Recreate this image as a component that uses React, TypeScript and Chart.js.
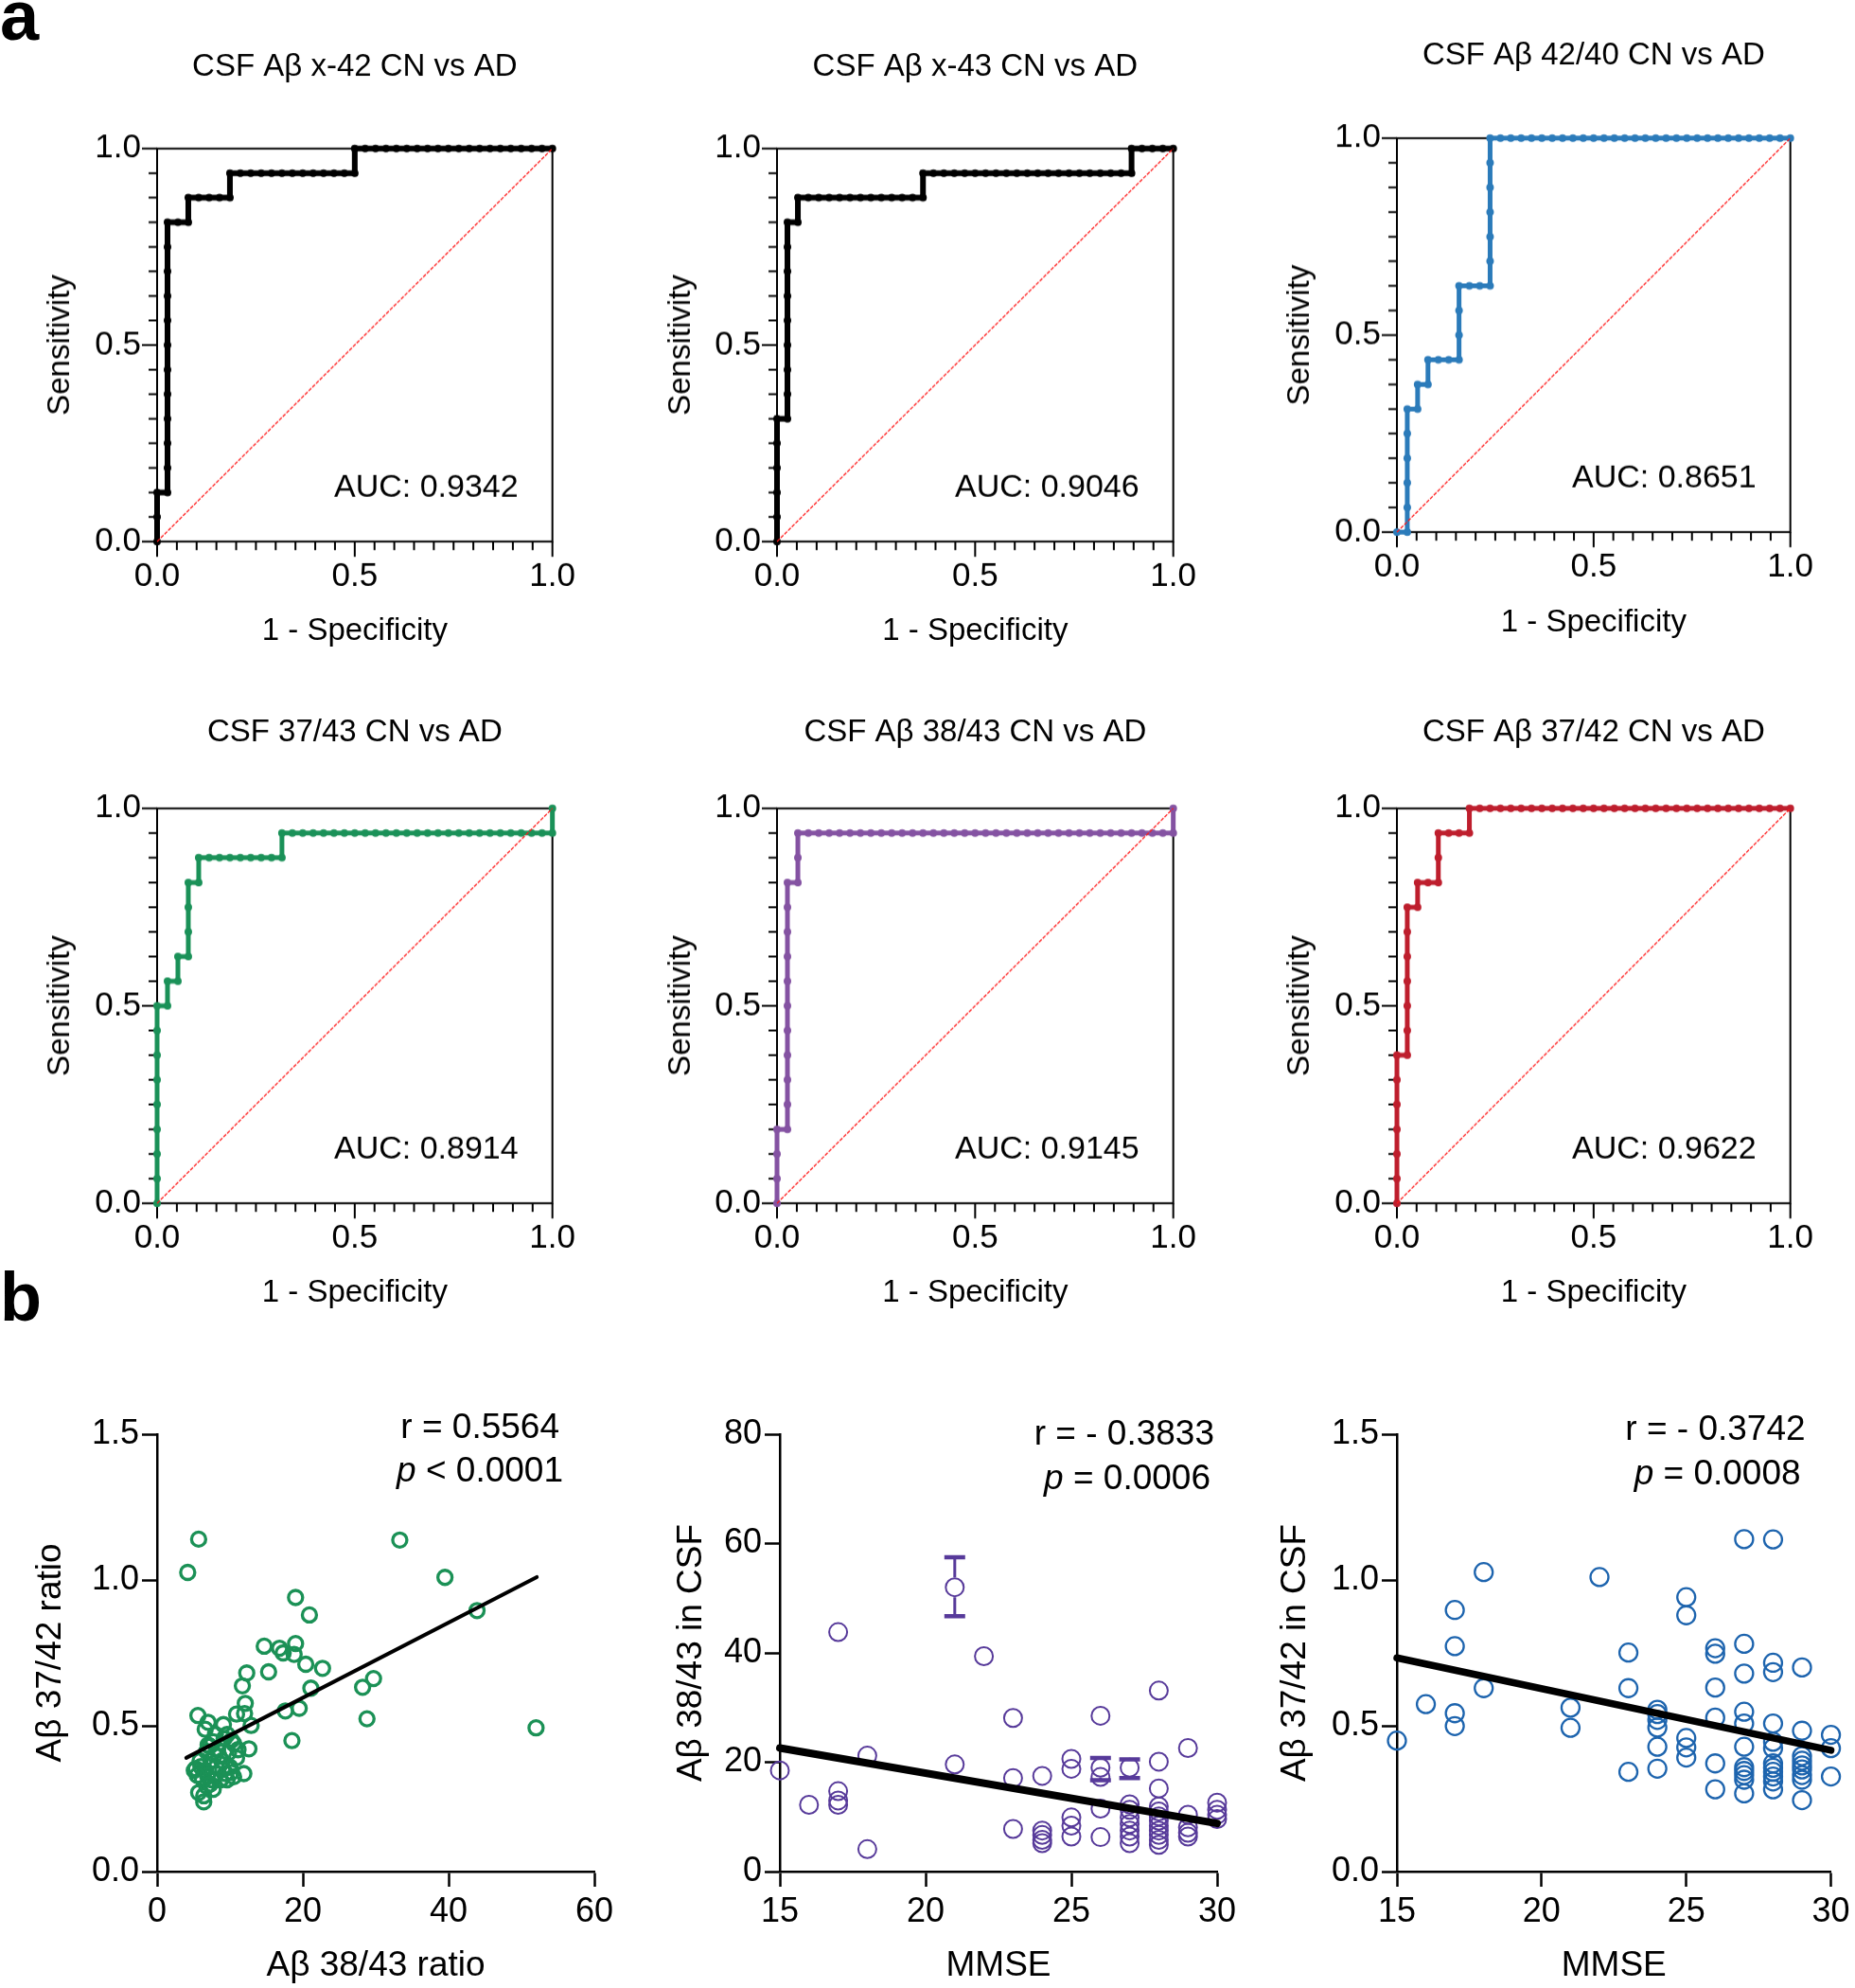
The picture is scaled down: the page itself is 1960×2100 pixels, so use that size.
import React, { useEffect, useRef } from "react";
import { Chart, registerables } from "chart.js";

Chart.register(...registerables);

const FONT = "'Liberation Sans', Arial, Helvetica, sans-serif";

// ---------------- (a) ROC curves ----------------
const N_CN = 38; // controls (1 - specificity denominator)
const N_AD = 16; // AD cases (sensitivity denominator)
// Corners of each ROC step path, as cumulative counts of false positives / true positives
const x42_FP = [0, 0, 1, 1, 3, 3, 7, 7, 19, 19, 38];
const x42_TP = [0, 2, 2, 13, 13, 14, 14, 15, 15, 16, 16];
const x43_FP = [0, 0, 1, 1, 2, 2, 14, 14, 34, 34, 38];
const x43_TP = [0, 5, 5, 13, 13, 14, 14, 15, 15, 16, 16];
const r4240_FP = [0, 1, 1, 2, 2, 3, 3, 6, 6, 9, 9, 38];
const r4240_TP = [0, 0, 5, 5, 6, 6, 7, 7, 10, 10, 16, 16];
const r3743_FP = [0, 0, 1, 1, 2, 2, 3, 3, 4, 4, 12, 12, 38, 38];
const r3743_TP = [0, 8, 8, 9, 9, 10, 10, 13, 13, 14, 14, 15, 15, 16];
const r3843_FP = [0, 0, 1, 1, 2, 2, 38, 38];
const r3843_TP = [0, 3, 3, 13, 13, 15, 15, 16];
const r3742_FP = [0, 0, 1, 1, 2, 2, 4, 4, 7, 7, 38];
const r3742_TP = [0, 6, 6, 12, 12, 13, 13, 15, 15, 16, 16];
const rocTitles = [
  "CSF Aβ x-42 CN vs AD",
  "CSF Aβ x-43 CN vs AD",
  "CSF Aβ 42/40 CN vs AD",
  "CSF 37/43 CN vs AD",
  "CSF Aβ 38/43 CN vs AD",
  "CSF Aβ 37/42 CN vs AD",
];
const aucLabels = ["AUC: 0.9342", "AUC: 0.9046", "AUC: 0.8651", "AUC: 0.8914", "AUC: 0.9145", "AUC: 0.9622"];
const rocTickLabels = [0, 0.5, 1.0];

// ---------------- (b) correlations ----------------
const ratio3843 = [
  5.7, 4.2, 33.3, 39.5, 43.9, 52.0, 19.0, 20.9, 14.7, 16.8, 17.3, 19.0, 18.8, 20.4, 22.7, 28.2, 29.7, 28.8,
  12.3, 15.3, 11.7, 12.1, 10.9, 12.0, 12.9, 17.6, 19.5, 21.1, 18.5, 5.6, 7.0, 6.6, 9.1, 12.6, 11.9,
  7.7, 9.2, 10.5, 6.8, 8.3, 9.8, 10.9, 5.9, 7.4, 8.9, 5.3, 6.6, 8.1, 9.4, 10.5, 6.2, 7.5, 8.7, 5.7, 7.7,
  6.4, 5.1, 7.0, 10.0, 8.5, 11.1, 9.6, 6.8, 8.1, 7.2, 8.0, 9.6, 10.2, 6.0, 7.9, 9.0, 10.2, 6.9, 5.5, 6.4, 7.3,
];
const ratio3742 = [
  1.14, 1.026, 1.137, 1.009, 0.895, 0.493, 0.94, 0.88, 0.773, 0.766, 0.75, 0.782, 0.745, 0.711, 0.697, 0.632, 0.662, 0.524,
  0.681, 0.685, 0.637, 0.577, 0.54, 0.542, 0.501, 0.551, 0.56, 0.629, 0.449, 0.535, 0.512, 0.488, 0.504, 0.421, 0.336,
  0.445, 0.456, 0.439, 0.412, 0.418, 0.407, 0.39, 0.38, 0.38, 0.38, 0.353, 0.347, 0.358, 0.336, 0.325, 0.32, 0.315, 0.315, 0.271, 0.282,
  0.239, 0.347, 0.434, 0.358, 0.396, 0.418, 0.315, 0.293, 0.336, 0.43, 0.47, 0.47, 0.45, 0.36, 0.4, 0.35, 0.34, 0.33, 0.33, 0.26, 0.3,
];
const fit7X = [4.0, 52.1];
const fit7Y = [0.39, 1.01];

const mmse8 = [
  15, 16, 17, 17, 17, 17, 18, 18, 21, 21, 22, 23, 23, 23, 24, 24, 24, 24, 24, 25, 25, 25, 25, 25,
  26, 26, 26, 26, 26, 27, 27, 27, 27, 27, 27, 27, 27, 28, 28, 28, 28, 28, 28, 28, 28, 28, 28, 28, 28,
  29, 29, 29, 29, 29, 30, 30, 30, 30,
];
const csf3843 = [
  18.5, 12.2, 43.8, 14.7, 13.0, 12.2, 21.2, 4.1, 52.0, 19.6, 39.4, 28.1, 17.1, 7.8, 17.5, 7.5, 6.7, 5.8, 5.2,
  20.6, 18.8, 9.9, 8.4, 6.4, 28.5, 19.0, 17.3, 11.5, 6.3, 19.0, 12.3, 11.3, 9.9, 8.7, 7.5, 6.4, 5.2,
  33.1, 20.1, 15.2, 11.9, 11.0, 10.1, 9.3, 8.4, 7.5, 6.7, 5.8, 4.9, 22.6, 10.4, 8.1, 7.1, 6.4, 12.6, 11.3, 10.4, 9.6,
];
const err8X = [21, 26, 27];
const err8Mean = [52.0, 19.0, 19.0];
const err8Low = [46.7, 16.7, 17.1];
const err8High = [57.5, 20.8, 20.5];
const fit8X = [15, 30];
const fit8Y = [22.6, 8.8];

const mmse9 = [
  15, 16, 17, 17, 17, 17, 18, 18, 21, 21, 22, 23, 23, 23, 24, 24, 24, 24, 24, 24, 25, 25, 25, 25, 25,
  26, 26, 26, 26, 26, 26, 27, 27, 27, 27, 27, 27, 27, 27, 27, 27, 27,
  28, 28, 28, 28, 28, 28, 28, 28, 28, 28, 28, 28, 29, 29, 29, 29, 29, 29, 29, 29, 29, 30, 30, 30,
];
const csf3742 = [
  0.449, 0.574, 0.897, 0.773, 0.543, 0.499, 1.027, 0.629, 0.562, 0.493, 1.01, 0.751, 0.629, 0.342,
  0.555, 0.54, 0.52, 0.494, 0.428, 0.353, 0.941, 0.879, 0.458, 0.426, 0.391,
  0.766, 0.747, 0.631, 0.528, 0.371, 0.282, 1.14, 0.781, 0.679, 0.548, 0.508, 0.428, 0.358, 0.345, 0.331, 0.315, 0.268,
  1.139, 0.716, 0.684, 0.508, 0.445, 0.423, 0.371, 0.356, 0.342, 0.326, 0.309, 0.282,
  0.7, 0.483, 0.396, 0.38, 0.364, 0.35, 0.331, 0.315, 0.245, 0.469, 0.423, 0.326,
];
const fit9X = [15, 30];
const fit9Y = [0.733, 0.416];

// ---------------- helpers ----------------
function rocPoints(fp: number[], tp: number[]) {
  const pts = [{ x: fp[0] / N_CN, y: tp[0] / N_AD }];
  for (let i = 1; i < fp.length; i++) {
    let cx = fp[i - 1];
    let cy = tp[i - 1];
    while (cx < fp[i] || cy < tp[i]) {
      if (cx < fp[i]) cx++;
      else cy++;
      pts.push({ x: cx / N_CN, y: cy / N_AD });
    }
  }
  return pts;
}
const zip = (xs: number[], ys: number[]) => xs.map((x, i) => ({ x, y: ys[i] }));

const T_FS = 33;
const TICK_FS = 35;
const AX_FS = 33;

const ROC_PANELS = [
  { fp: x42_FP, tp: x42_TP, color: "#000000", lw: 6, plot: { l: 166, t: 157, r: 584, b: 572 }, titleY: 71, xTickY: 609, xTitleY: 667, yTitleX: 64 },
  { fp: x43_FP, tp: x43_TP, color: "#000000", lw: 6, plot: { l: 821, t: 157, r: 1240, b: 572 }, titleY: 71, xTickY: 609, xTitleY: 667, yTitleX: 720 },
  { fp: r4240_FP, tp: r4240_TP, color: "#2b7bba", lw: 5, plot: { l: 1476, t: 146, r: 1892, b: 562 }, titleY: 59, xTickY: 599, xTitleY: 658, yTitleX: 1374 },
  { fp: r3743_FP, tp: r3743_TP, color: "#1a9158", lw: 5, plot: { l: 166, t: 854, r: 584, b: 1271 }, titleY: 774, xTickY: 1308, xTitleY: 1366, yTitleX: 64 },
  { fp: r3843_FP, tp: r3843_TP, color: "#8452a2", lw: 5, plot: { l: 821, t: 854, r: 1240, b: 1271 }, titleY: 774, xTickY: 1308, xTitleY: 1366, yTitleX: 720 },
  { fp: r3742_FP, tp: r3742_TP, color: "#be1e2d", lw: 5, plot: { l: 1476, t: 854, r: 1892, b: 1271 }, titleY: 774, xTickY: 1308, xTitleY: 1366, yTitleX: 1374 },
];

function rocGeom(p: any) {
  const left = p.yTitleX - 40;
  const top = p.titleY - (T_FS * 1.2) / 2;
  const right = p.plot.r + 40;
  const bottom = p.xTitleY + (AX_FS * 1.2) / 2 + 4;
  return { left, top, width: right - left, height: bottom - top };
}

function rocConfig(p: any, idx: number, g: any): any {
  const lhT = T_FS * 1.2;
  const lhK = TICK_FS * 1.2;
  const lhA = AX_FS * 1.2;
  const L = p.plot.l - g.left;
  const B = g.top + g.height - p.plot.b;
  const frame = {
    id: "rocFrame",
    beforeDatasetsDraw(chart: any) {
      const { ctx, chartArea: a, scales } = chart;
      ctx.save();
      ctx.strokeStyle = "#000";
      ctx.lineWidth = 2;
      ctx.lineCap = "butt";
      ctx.strokeRect(a.left, a.top, a.right - a.left, a.bottom - a.top);
      ctx.beginPath();
      for (let i = 0; i <= 20; i++) {
        const px = scales.x.getPixelForValue(i / 20);
        const len = i % 10 === 0 ? 16 : 9;
        ctx.moveTo(px, a.bottom);
        ctx.lineTo(px, a.bottom + len);
      }
      for (let j = 0; j <= 16; j++) {
        const py = scales.y.getPixelForValue(j / 16);
        const len = j % 8 === 0 ? 16 : 9;
        ctx.moveTo(a.left, py);
        ctx.lineTo(a.left - len, py);
      }
      ctx.stroke();
      ctx.restore();
    },
    afterDatasetsDraw(chart: any) {
      const { ctx, chartArea: a } = chart;
      ctx.save();
      ctx.fillStyle = "#000";
      ctx.font = `${AX_FS + 1}px ${FONT}`;
      ctx.textAlign = "right";
      ctx.textBaseline = "middle";
      ctx.fillText(aucLabels[idx], a.right - 36, a.bottom - 57);
      ctx.restore();
    },
  };
  return {
    type: "line",
    data: {
      datasets: [
        {
          data: [{ x: 0, y: 0 }, { x: 1, y: 1 }],
          borderColor: "#ff1a1a",
          borderWidth: 1.3,
          borderDash: [4, 1.5],
          pointRadius: 0,
          order: 0,
          clip: false,
        },
        {
          data: rocPoints(p.fp, p.tp),
          borderColor: p.color,
          backgroundColor: p.color,
          borderWidth: p.lw,
          pointRadius: 4,
          pointBorderWidth: 0,
          pointBackgroundColor: p.color,
          borderJoinStyle: "miter",
          tension: 0,
          order: 1,
          clip: false,
        },
      ],
    },
    options: {
      animation: false,
      responsive: false,
      events: [],
      layout: { padding: { left: 0, top: 0, right: g.left + g.width - p.plot.r, bottom: 0 } },
      plugins: {
        legend: { display: false },
        tooltip: { enabled: false },
        title: {
          display: true,
          text: rocTitles[idx],
          fullSize: false,
          color: "#000",
          font: { size: T_FS, weight: "normal", family: FONT, lineHeight: 1.2 },
          padding: { top: 0, bottom: p.plot.t - p.titleY - lhT / 2 },
        },
      },
      scales: {
        x: {
          type: "linear",
          position: "bottom",
          min: 0,
          max: 1,
          afterFit: (s: any) => {
            s.height = B;
          },
          grid: { display: false, drawTicks: false },
          border: { display: false },
          afterBuildTicks: (s: any) => {
            s.ticks = rocTickLabels.map((v) => ({ value: v }));
          },
          ticks: {
            autoSkip: false,
            maxRotation: 0,
            color: "#000",
            padding: p.xTickY - p.plot.b - lhK / 2,
            font: { size: TICK_FS, family: FONT, lineHeight: 1.2 },
            callback: (v: any) => Number(v).toFixed(1),
          },
          title: {
            display: true,
            text: "1 - Specificity",
            color: "#000",
            font: { size: AX_FS, family: FONT, lineHeight: 1.2 },
            padding: { top: 0, bottom: 4 },
          },
        },
        y: {
          type: "linear",
          position: "left",
          min: 0,
          max: 1,
          afterFit: (s: any) => {
            s.width = L;
          },
          grid: { display: false, drawTicks: false },
          border: { display: false },
          afterBuildTicks: (s: any) => {
            s.ticks = rocTickLabels.map((v) => ({ value: v }));
          },
          ticks: {
            autoSkip: false,
            color: "#000",
            padding: 17,
            font: { size: TICK_FS, family: FONT, lineHeight: 1.2 },
            callback: (v: any) => Number(v).toFixed(1),
          },
          title: {
            display: true,
            text: "Sensitivity",
            color: "#000",
            font: { size: AX_FS, family: FONT, lineHeight: 1.2 },
            padding: { top: p.yTitleX - g.left - lhA / 2, bottom: 0 },
          },
        },
      },
    },
    plugins: [frame],
  };
}

// ---------------- scatter panels ----------------
const S_FS = 37;
const S_TICK_FS = 36;

const SC_PANELS: any[] = [
  {
    xs: ratio3843, ys: ratio3742, fitX: fit7X, fitY: fit7Y, color: "#1b9156", radius: 7.5, bw: 3.3, fitW: 4,
    xMin: 0, xMax: 60, xStep: 20, xDec: 0, yMin: 0, yMax: 1.5, yStep: 0.5, yDec: 1,
    xTitle: "Aβ 38/43 ratio", yTitle: "Aβ 37/42 ratio",
    notes: [
      { pre: "", text: "r = 0.5564", dx: 37, dy: -6 },
      { pre: "p", text: " < 0.0001", dx: 33, dy: 40 },
    ],
    plot: { l: 166, t: 1515, r: 628, b: 1977 }, yTitleX: 54, rightPad: 40, err: false,
  },
  {
    xs: mmse8, ys: csf3843, fitX: fit8X, fitY: fit8Y, color: "#573a9a", radius: 9.5, bw: 2, fitW: 8,
    xMin: 15, xMax: 30, xStep: 5, xDec: 0, yMin: 0, yMax: 80, yStep: 20, yDec: 0,
    xTitle: "MMSE", yTitle: "Aβ 38/43 in CSF",
    notes: [
      { pre: "", text: "r = - 0.3833", dx: 3, dy: 1 },
      { pre: "p", text: " = 0.0006", dx: 7, dy: 48 },
    ],
    plot: { l: 824, t: 1515, r: 1286, b: 1977 }, yTitleX: 731, rightPad: 40, err: true,
  },
  {
    xs: mmse9, ys: csf3742, fitX: fit9X, fitY: fit9Y, color: "#1d64ae", radius: 9.5, bw: 2.3, fitW: 7.5,
    xMin: 15, xMax: 30, xStep: 5, xDec: 0, yMin: 0, yMax: 1.5, yStep: 0.5, yDec: 1,
    xTitle: "MMSE", yTitle: "Aβ 37/42 in CSF",
    notes: [
      { pre: "", text: "r = - 0.3742", dx: 27, dy: -4 },
      { pre: "p", text: " = 0.0008", dx: 32, dy: 43 },
    ],
    plot: { l: 1476, t: 1515, r: 1938, b: 1977 }, yTitleX: 1369, rightPad: 22, err: false,
  },
];

function scGeom(s: any) {
  const left = s.yTitleX - 40;
  const top = 1440;
  const right = s.plot.r + s.rightPad;
  const bottom = 2100;
  return { left, top, width: right - left, height: bottom - top };
}

function scConfig(s: any, g: any): any {
  const lhK = S_TICK_FS * 1.2;
  const lhA = S_FS * 1.2;
  const L = s.plot.l - g.left;
  const B = g.top + g.height - s.plot.b;
  const TL = 16;
  const notes = {
    id: "scNotes",
    afterDatasetsDraw(chart: any) {
      const { ctx, chartArea: a, scales } = chart;
      ctx.save();
      ctx.fillStyle = "#000";
      ctx.textBaseline = "middle";
      ctx.textAlign = "left";
      for (const n of s.notes) {
        ctx.font = `${S_FS}px ${FONT}`;
        const wRest = ctx.measureText(n.text).width;
        ctx.font = `italic ${S_FS}px ${FONT}`;
        const wPre = n.pre ? ctx.measureText(n.pre).width : 0;
        const x0 = a.right - n.dx - wRest - wPre;
        const y0 = a.top + n.dy;
        if (n.pre) ctx.fillText(n.pre, x0, y0);
        ctx.font = `${S_FS}px ${FONT}`;
        ctx.fillText(n.text, x0 + wPre, y0);
      }
      if (s.err) {
        ctx.strokeStyle = s.color;
        ctx.lineCap = "butt";
        const rr = s.radius + s.bw / 2;
        for (let i = 0; i < err8X.length; i++) {
          const px = scales.x.getPixelForValue(err8X[i]);
          const pm = scales.y.getPixelForValue(err8Mean[i]);
          const ph = scales.y.getPixelForValue(err8High[i]);
          const pl = scales.y.getPixelForValue(err8Low[i]);
          ctx.lineWidth = 3;
          ctx.beginPath();
          if (pm - rr > ph) {
            ctx.moveTo(px, ph);
            ctx.lineTo(px, pm - rr);
          }
          if (pm + rr < pl) {
            ctx.moveTo(px, pm + rr);
            ctx.lineTo(px, pl);
          }
          ctx.stroke();
          ctx.lineWidth = 4.5;
          ctx.beginPath();
          ctx.moveTo(px - 11, ph);
          ctx.lineTo(px + 11, ph);
          ctx.moveTo(px - 11, pl);
          ctx.lineTo(px + 11, pl);
          ctx.stroke();
        }
      }
      ctx.restore();
    },
  };
  const axisCommon = {
    grid: { display: true, drawOnChartArea: false, drawTicks: true, tickLength: TL, tickWidth: 2.5, tickColor: "#000" },
    border: { display: true, width: 2.5, color: "#000" },
  };
  return {
    type: "scatter",
    data: {
      datasets: [
        {
          data: zip(s.fitX, s.fitY),
          showLine: true,
          borderColor: "#000",
          borderWidth: s.fitW,
          borderCapStyle: "round",
          pointRadius: 0,
          order: 0,
          clip: false,
        },
        {
          data: zip(s.xs, s.ys),
          showLine: false,
          pointRadius: s.radius,
          pointBorderWidth: s.bw,
          pointBorderColor: s.color,
          pointBackgroundColor: "rgba(0,0,0,0)",
          borderColor: s.color,
          backgroundColor: "rgba(0,0,0,0)",
          order: 1,
          clip: false,
        },
      ],
    },
    options: {
      animation: false,
      responsive: false,
      events: [],
      layout: { padding: { left: 0, top: s.plot.t - g.top, right: g.left + g.width - s.plot.r, bottom: 0 } },
      plugins: { legend: { display: false }, tooltip: { enabled: false } },
      scales: {
        x: {
          type: "linear",
          position: "bottom",
          min: s.xMin,
          max: s.xMax,
          afterFit: (sc: any) => {
            sc.height = B;
          },
          ...axisCommon,
          ticks: {
            stepSize: s.xStep,
            autoSkip: false,
            maxRotation: 0,
            color: "#000",
            padding: 2020 - s.plot.b - TL - lhK / 2,
            font: { size: S_TICK_FS, family: FONT, lineHeight: 1.2 },
            callback: (v: any) => Number(v).toFixed(s.xDec),
          },
          title: {
            display: true,
            text: s.xTitle,
            color: "#000",
            font: { size: S_FS, family: FONT, lineHeight: 1.2 },
            padding: { top: 0, bottom: g.top + g.height - 2077 - lhA / 2 },
          },
        },
        y: {
          type: "linear",
          position: "left",
          min: s.yMin,
          max: s.yMax,
          afterFit: (sc: any) => {
            sc.width = L;
          },
          ...axisCommon,
          ticks: {
            stepSize: s.yStep,
            autoSkip: false,
            color: "#000",
            padding: 3,
            font: { size: S_TICK_FS, family: FONT, lineHeight: 1.2 },
            callback: (v: any) => Number(v).toFixed(s.yDec),
          },
          title: {
            display: true,
            text: s.yTitle,
            color: "#000",
            font: { size: S_FS, family: FONT, lineHeight: 1.2 },
            padding: { top: s.yTitleX - g.left - lhA / 2, bottom: 0 },
          },
        },
      },
    },
    plugins: [notes],
  };
}

export default function App() {
  const rocRefs = useRef<(HTMLCanvasElement | null)[]>([]);
  const scRefs = useRef<(HTMLCanvasElement | null)[]>([]);

  useEffect(() => {
    Chart.defaults.font.family = FONT;
    Chart.defaults.color = "#000";
    const charts: Chart[] = [];
    ROC_PANELS.forEach((p, i) => {
      const c = rocRefs.current[i];
      if (!c) return;
      const g = rocGeom(p);
      charts.push(new Chart(c, rocConfig(p, i, g)));
    });
    SC_PANELS.forEach((s, i) => {
      const c = scRefs.current[i];
      if (!c) return;
      const g = scGeom(s);
      charts.push(new Chart(c, scConfig(s, g)));
    });
    return () => charts.forEach((ch) => ch.destroy());
  }, []);

  const letter = (t: string, top: number, size: number) => (
    <div
      style={{
        position: "absolute",
        left: 0,
        top,
        fontFamily: FONT,
        fontWeight: "bold",
        fontSize: size,
        lineHeight: `${size}px`,
        color: "#000",
      }}
    >
      {t}
    </div>
  );

  return (
    <div
      style={{
        position: "absolute",
        left: 0,
        top: 0,
        width: 1960,
        height: 2100,
        overflow: "hidden",
        background: "#fff",
      }}
    >
      {ROC_PANELS.map((p, i) => {
        const g = rocGeom(p);
        return (
          <canvas
            key={"roc" + i}
            ref={(el) => {
              rocRefs.current[i] = el;
            }}
            width={g.width}
            height={g.height}
            style={{ position: "absolute", left: g.left, top: g.top, width: g.width, height: g.height }}
          />
        );
      })}
      {SC_PANELS.map((s, i) => {
        const g = scGeom(s);
        return (
          <canvas
            key={"sc" + i}
            ref={(el) => {
              scRefs.current[i] = el;
            }}
            width={g.width}
            height={g.height}
            style={{ position: "absolute", left: g.left, top: g.top, width: g.width, height: g.height }}
          />
        );
      })}
      {letter("a", -20, 74)}
      {letter("b", 1334, 72)}
    </div>
  );
}
